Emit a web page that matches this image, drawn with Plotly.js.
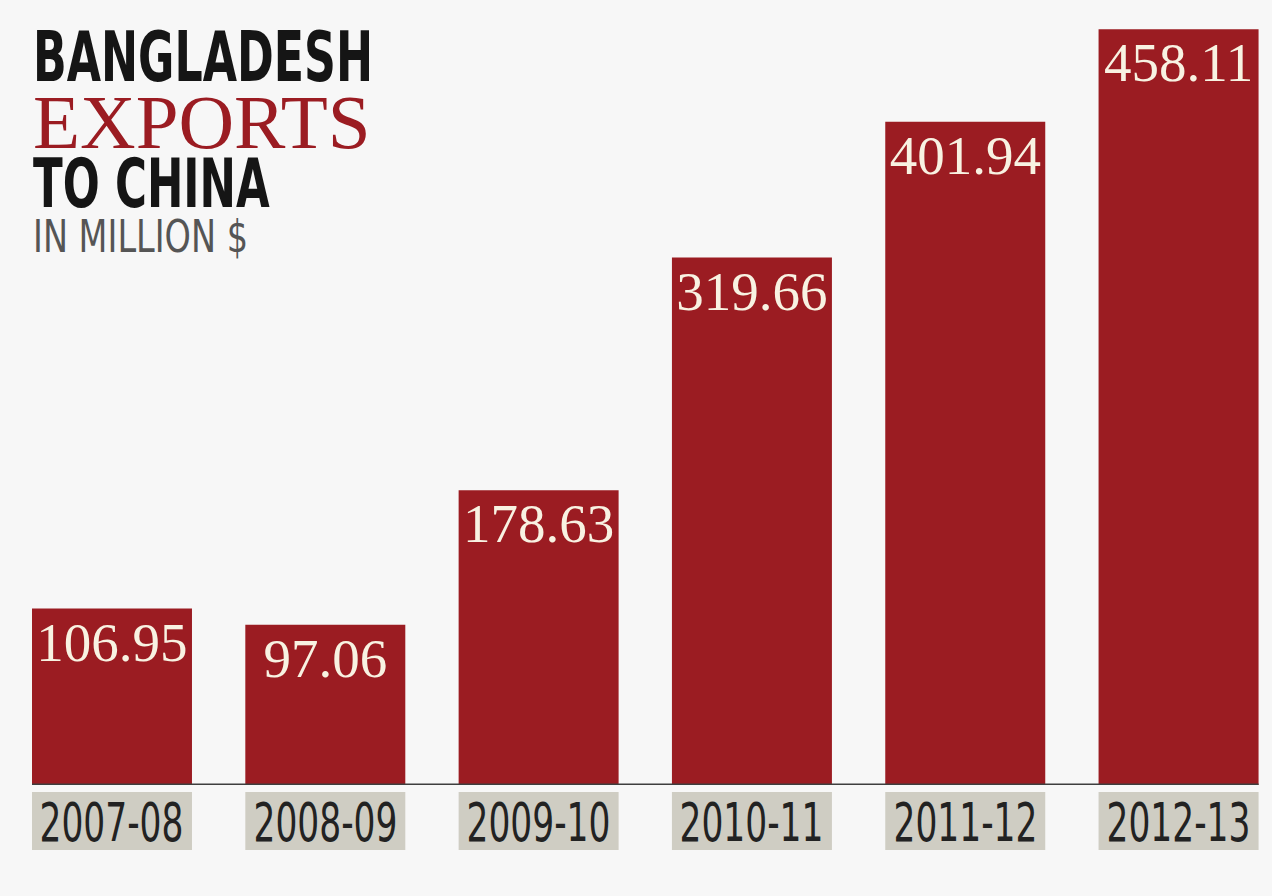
<!DOCTYPE html>
<html>
<head>
<meta charset="utf-8">
<script src="https://cdn.plot.ly/plotly-3.0.1.min.js"></script>
<style>
html,body{margin:0;padding:0;background:#f7f7f7;}
#chart{width:1272px;height:896px;}
</style>
</head>
<body>
<div id="chart"></div>
<script>
const categories = ["2007-08", "2008-09", "2009-10", "2010-11", "2011-12", "2012-13"];
const exportsMillionUSD = [106.95, 97.06, 178.63, 319.66, 401.94, 458.11];
const valueLabels = ["106.95", "97.06", "178.63", "319.66", "401.94", "458.11"];

const BAR_RED = "#9b1c22";
const NARROW = "Liberation Sans Narrow, DejaVu Sans Condensed, Arial Narrow, sans-serif";
const SERIF = "Liberation Serif, Times New Roman, serif";
const PLOT_H = 785;
const BAR_W = 0.75;

function py(p){ return 1 - p / PLOT_H; }

const trace = {
  type: "bar",
  x: categories.map((c, i) => i),
  y: exportsMillionUSD,
  width: BAR_W,
  marker: {color: BAR_RED, line: {width: 0}},
  text: valueLabels,
  textposition: "inside",
  insidetextanchor: "end",
  constraintext: "none",
  textangle: 0,
  textfont: {family: SERIF, size: 55, color: "#f8f2e2"},
  hoverinfo: "skip",
  cliponaxis: false
};

const annotations = [];
const shapes = [];
categories.forEach((c, i) => {
  shapes.push({
    type: "rect", xref: "x", yref: "paper",
    x0: i - BAR_W / 2, x1: i + BAR_W / 2, y0: py(850), y1: py(792),
    fillcolor: "#cfcdc3", line: {width: 0}, layer: "below"
  });
  annotations.push({
    xref: "x", yref: "paper", x: i, y: py(822),
    xanchor: "center", yanchor: "middle",
    text: c, showarrow: false,
    font: {family: NARROW, size: 54, color: "#222222"}
  });
});
shapes.push({
  type: "line", xref: "x", yref: "y",
  x0: -BAR_W / 2, x1: categories.length - 1 + BAR_W / 2, y0: 0, y1: 0,
  line: {color: "#3e3e3e", width: 3},
  layer: "above"
});

const titleLines = [
  {text: "<b>BANGLADESH</b>", c: 57.5, w: 340, font: {family: NARROW, size: 69, color: "#151515"}},
  {text: "EXPORTS", c: 122.5, w: 340, font: {family: SERIF, size: 77, color: "#9b1c22"}},
  {text: "<b>TO CHINA</b>", c: 184, w: 237, font: {family: NARROW, size: 67, color: "#151515"}},
  {text: "IN MILLION $", c: 237, w: 215, font: {family: NARROW, size: 45, color: "#555555"}}
];
titleLines.forEach(t => {
  annotations.push({
    xref: "paper", yref: "paper", x: 31 / 1272, y: py(t.c),
    xanchor: "left", yanchor: "middle",
    text: t.text, showarrow: false, font: t.font
  });
});

const layout = {
  width: 1272, height: 896,
  margin: {l: 0, r: 0, t: 0, b: 111, pad: 0},
  paper_bgcolor: "#f7f7f7",
  plot_bgcolor: "#f7f7f7",
  showlegend: false,
  xaxis: {
    type: "linear",
    range: [-0.525, -0.525 + 5.963],
    showgrid: false, zeroline: false, showticklabels: false, ticks: "", showline: false,
    fixedrange: true
  },
  yaxis: {
    range: [0, 475.8],
    showgrid: false, zeroline: false, showticklabels: false, ticks: "", showline: false,
    fixedrange: true
  },
  shapes: shapes,
  annotations: annotations
};

// condense the sans-serif texts horizontally (no narrow font is installed)
function condense() {
  const nCat = categories.length;
  let catScale = null;
  document.querySelectorAll("g.annotation").forEach(g => {
    const idx = +g.getAttribute("data-index");
    const t = g.querySelector("text.annotation-text");
    if (!t) return;
    const bb = t.getBBox();
    if (!bb.width) return;
    let s, ax;
    if (idx < nCat) {
      if (catScale === null) catScale = 144 / bb.width;
      s = catScale;
      ax = bb.x + bb.width / 2;
    } else {
      const line = titleLines[idx - nCat];
      s = Math.min(1, line.w / bb.width);
      ax = bb.x;
    }
    const prev = t.getAttribute("transform") || "";
    t.setAttribute("transform", prev + " translate(" + ax + ",0) scale(" + s + ",1) translate(" + (-ax) + ",0)");
  });
}

Plotly.newPlot("chart", [trace], layout, {staticPlot: true, displayModeBar: false}).then(condense);
</script>
</body>
</html>
